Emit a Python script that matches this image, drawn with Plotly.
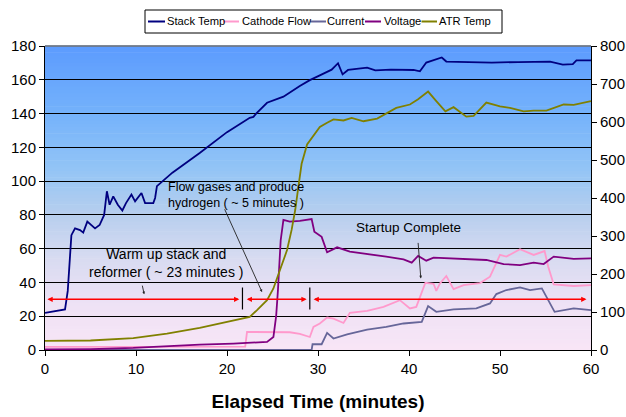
import plotly.graph_objects as go

# ---------------- data ----------------
stack_t = [0, 1, 2.2, 2.5, 2.9, 3.3, 3.85, 4.2, 4.65, 5.5, 6.0, 6.5, 6.8, 7.1, 7.5, 8.0, 8.5, 8.9, 9.5, 9.9,
           10.6, 11.0, 11.9, 12.1, 12.3, 14, 17, 20, 22.5, 22.9, 23.2, 24.4, 26.2, 28.0, 29.1, 30.2, 31.5,
           32.2, 32.7, 33.3, 35.4, 36.3, 38, 40.5, 41.2, 41.9, 43.6, 44.1, 46, 49.1, 52, 55.5, 56.9, 58.0, 58.4, 60]
stack_v = [22, 23, 24, 35, 68, 72, 71, 69.5, 76, 72, 74, 80, 94, 86, 91, 86, 82.6, 87, 92, 88,
           93, 87, 87, 90, 97, 105, 116.7, 129, 137.5, 138, 140, 146.4, 150, 156.3, 159.8, 162.6, 166,
           169.8, 163.2, 165.8, 167.2, 165.6, 166, 165.8, 165.0, 170.2, 173.2, 170.8, 170.5, 170.2, 170.5, 170.8, 169, 169.3, 171.5, 171.5]

cathode_t = [0, 22.0, 22.2, 24.4, 26.9, 28.0, 29.1, 29.5, 30.2, 31.0, 31.7, 32.8, 33.5, 35.4, 37.2, 39.0, 40.1,
             40.8, 41.8, 42.7, 43.0, 43.4, 44.1, 44.9, 46.0, 47.8, 48.9, 50.0, 50.7, 52.2, 53.7, 54.9, 55.3,
             55.9, 58.1, 60]
cathode_v = [1.8, 2, 10.7, 10.7, 10.5, 9.5, 7.7, 13.7, 15.7, 19.2, 18.6, 16, 22, 23.2, 25.5, 29.5, 24.6,
             25.5, 39.8, 39.2, 35, 39.4, 43.8, 36, 38.4, 39.6, 43.4, 56.3, 55.3, 59.7, 56.3, 58.6, 49.3,
             38.9, 37.9, 38.4]

current_t = [0, 29.3, 29.4, 30.4, 31.0, 31.7, 33.2, 35.4, 37.5, 39.4, 41.4, 42.1, 43.0, 44.9, 47.4, 48.9,
             49.6, 50.7, 52.2, 53.3, 54.6, 55.3, 56.0, 58.1, 60]
current_v = [0, 0, 3.4, 3.4, 10.1, 6.8, 9.3, 12.1, 13.7, 15.7, 16.6, 26, 22.6, 24, 24.6, 27.6,
             33.1, 35.5, 37.1, 35.5, 36.5, 29.5, 22.6, 24.6, 23.6]

voltage_t = [0, 5, 9.7, 13.4, 17, 20.7, 24.4, 25.1, 25.4, 25.6, 25.9, 26.2, 26.9, 28, 29.3, 29.6, 30.4, 31.0,
             31.4, 32.1, 33.5, 35.4, 37.5, 39.4, 40.3, 41.0, 41.9, 42.7, 46.3, 48.5, 50.4, 52.2, 53.7, 54.8,
             55.9, 58.1, 60]
voltage_v = [0.3, 0.5, 1.2, 2.4, 3.2, 3.8, 4.8, 7.7, 20, 35.5, 65, 77, 76, 76.5, 77.5, 70, 67, 57.9,
             59, 60.8, 58.2, 56.9, 55.3, 53.7, 51.7, 55.7, 52.9, 54.7, 54, 53.3, 50.9, 50.3, 51.7, 50.9,
             55.3, 53.9, 54.3]

atr_t = [0, 5, 9.7, 13.4, 17, 20.7, 22.5, 23.3, 24.4, 25.1, 25.8, 26.6, 27.1, 27.5, 27.8, 28.2, 28.8, 29.7,
         30.2, 31.0, 31.7, 32.8, 33.7, 35.0, 36.5, 38.6, 40.1, 41.0, 42.1, 43.0, 44.0, 44.9, 46.3, 47.1,
         48.5, 50, 51.1, 52.6, 53.7, 55.1, 57.0, 58.1, 60]
atr_v = [24, 25, 31, 43, 58, 76.6, 87, 105, 131, 162, 210, 263, 316, 369, 422, 490, 541, 571,
         587, 598, 607, 604, 611, 602, 609, 637, 646, 660, 680, 655, 628, 639, 614, 616,
         651, 641, 637, 628, 630, 630, 646, 645, 655]

series_names = ["Stack Temp", "Cathode Flow", "Current", "Voltage", "ATR Temp"]
series_colors = ["#000080", "#FF99CC", "#666699", "#800080", "#808000"]

x_ticks = [0, 10, 20, 30, 40, 50, 60]

# phase markers (minutes) and level on the left axis
phase_level = 30
phase_segments = [(0.1, 21.35), (22.0, 28.75), (29.35, 59.5)]
phase_marks = [21.7, 29.1]

# ---------------- geometry helpers (pixel -> paper) ----------------
W, H = 626, 417
ML, MR, MT, MB = 45, 35, 46, 67
PW, PH = W - ML - MR, H - MT - MB


def px(x):
    return (x - ML) / PW


def py(y):
    return (H - MB - y) / PH


# ---------------- figure ----------------
fig = go.Figure()

xs = [stack_t, cathode_t, current_t, voltage_t, atr_t]
ys = [stack_v, cathode_v, current_v, voltage_v, atr_v]
for i, name in enumerate(series_names):
    fig.add_trace(go.Scatter(
        x=xs[i], y=ys[i], name=name, mode="lines",
        line=dict(color=series_colors[i], width=1.8),
        yaxis="y2" if name == "ATR Temp" else "y",
        showlegend=False,
    ))

# gradient background
stops = [(0.0, (248, 229, 246)), (0.15, (238, 226, 245)), (0.3, (216, 219, 241)),
         (0.45, (182, 206, 238)), (0.6, (146, 196, 246)), (0.78, (116, 178, 251)), (1.0, (92, 155, 254))]
N = 90
shapes = []
for k in range(N):
    f = (k + 0.5) / N
    for j in range(len(stops) - 1):
        if stops[j][0] <= f <= stops[j + 1][0]:
            a, ca = stops[j]
            b, cb = stops[j + 1]
            u = (f - a) / (b - a)
            c = tuple(int(round(ca[m] + (cb[m] - ca[m]) * u)) for m in range(3))
            break
    shapes.append(dict(type="rect", xref="paper", yref="paper", x0=0, x1=1,
                       y0=k / N, y1=(k + 1) / N + 0.002, line=dict(width=0),
                       fillcolor="rgb(%d,%d,%d)" % c, layer="below"))

# gray top border of the plot area
shapes.append(dict(type="line", xref="paper", yref="paper", x0=0, x1=1, y0=1, y1=1,
                   line=dict(color="#707070", width=1.5), layer="above"))

for xm in phase_marks:
    shapes.append(dict(type="line", xref="x", yref="y", x0=xm, x1=xm, y0=24, y1=37,
                       line=dict(color="black", width=1.2)))

annotations = []

# legend box (drawn manually to match compact layout)
leg_box = (145, 10, 502, 33)
shapes.append(dict(type="rect", xref="paper", yref="paper", x0=px(leg_box[0]), x1=px(leg_box[2]),
                   y0=py(leg_box[3]), y1=py(leg_box[1]), fillcolor="white",
                   line=dict(color="black", width=1), layer="above"))
leg_items = [(148, 165, 166), (223, 239, 240.5), (310, 326, 326.5), (365, 381, 382.5), (421.5, 437, 438)]
leg_y = 21.5
for i, (l0, l1, tx) in enumerate(leg_items):
    shapes.append(dict(type="line", xref="paper", yref="paper", x0=px(l0), x1=px(l1),
                       y0=py(leg_y), y1=py(leg_y), line=dict(color=series_colors[i], width=2),
                       layer="above"))
    annotations.append(dict(x=px(tx), y=py(leg_y), xref="paper", yref="paper", xanchor="left",
                            yanchor="middle", text=series_names[i], showarrow=False,
                            font=dict(family="Liberation Sans, Arial", size=11.2, color="black"),
                            borderpad=0))

for a, b in phase_segments:
    annotations.append(dict(x=b, y=phase_level, ax=a, ay=phase_level, xref="x", yref="y",
                            axref="x", ayref="y", text="", showarrow=True,
                            arrowside="end+start", arrowhead=2, arrowsize=0.7,
                            arrowwidth=1.5, arrowcolor="#FF0000"))

annotations += [
    dict(x=13.3, y=91.6, xref="x", yref="y", xanchor="left", yanchor="middle", align="left",
         text="Flow gases and produce<br>hydrogen ( ~ 5 minutes )", showarrow=False,
         font=dict(family="Liberation Sans, Arial", size=12.5, color="black")),
    dict(x=13.3, y=51.8, xref="x", yref="y", xanchor="center", yanchor="middle", align="center",
         text="Warm up stack and<br>reformer ( ~ 23 minutes )", showarrow=False,
         font=dict(family="Liberation Sans, Arial", size=14, color="black")),
    dict(x=39.95, y=72.3, xref="x", yref="y", xanchor="center", yanchor="middle",
         text="Startup Complete", showarrow=False,
         font=dict(family="Liberation Sans, Arial", size=13.5, color="black")),
]
for (tx, ty, hx, hy) in [(19.67, 84.2, 23.85, 34.3), (10.66, 39.0, 10.9, 33.0), (40.99, 64.3, 41.3, 42.4)]:
    annotations.append(dict(x=hx, y=hy, ax=tx, ay=ty, xref="x", yref="y", axref="x", ayref="y",
                            text="", showarrow=True, arrowhead=2, arrowsize=0.6,
                            arrowwidth=0.9, arrowcolor="#222222"))

fig.update_layout(
    width=W, height=H,
    margin=dict(l=ML, r=MR, t=MT, b=MB, autoexpand=False),
    paper_bgcolor="white",
    plot_bgcolor="white",
    font=dict(family="Liberation Sans, Arial", size=15, color="black"),
    shapes=shapes,
    annotations=annotations,
    showlegend=False,
    xaxis=dict(range=[0, 60], tickvals=x_ticks, ticks="outside", ticklen=5, tickcolor="black",
               showline=True, linecolor="black", linewidth=1, showgrid=False, zeroline=False,
               tickfont=dict(size=15), automargin=False,
               title=dict(text="<b>Elapsed Time (minutes)</b>", font=dict(size=19), standoff=18)),
    yaxis=dict(range=[0, 180], dtick=20, ticks="outside", ticklen=5, tickcolor="black",
               showline=True, linecolor="black", linewidth=1, showgrid=True, automargin=False,
               gridcolor="black", gridwidth=1, zeroline=False, tickfont=dict(size=15)),
    yaxis2=dict(range=[0, 800], dtick=100, overlaying="y", side="right", ticks="outside",
                ticklen=5, tickcolor="black", showline=True, linecolor="black", linewidth=1,
                showgrid=False, zeroline=False, tickfont=dict(size=15), automargin=False),
)

fig.write_html("out.html", config={"displayModeBar": False},
               post_script="document.body.style.margin='0';document.body.style.overflow='hidden';")
